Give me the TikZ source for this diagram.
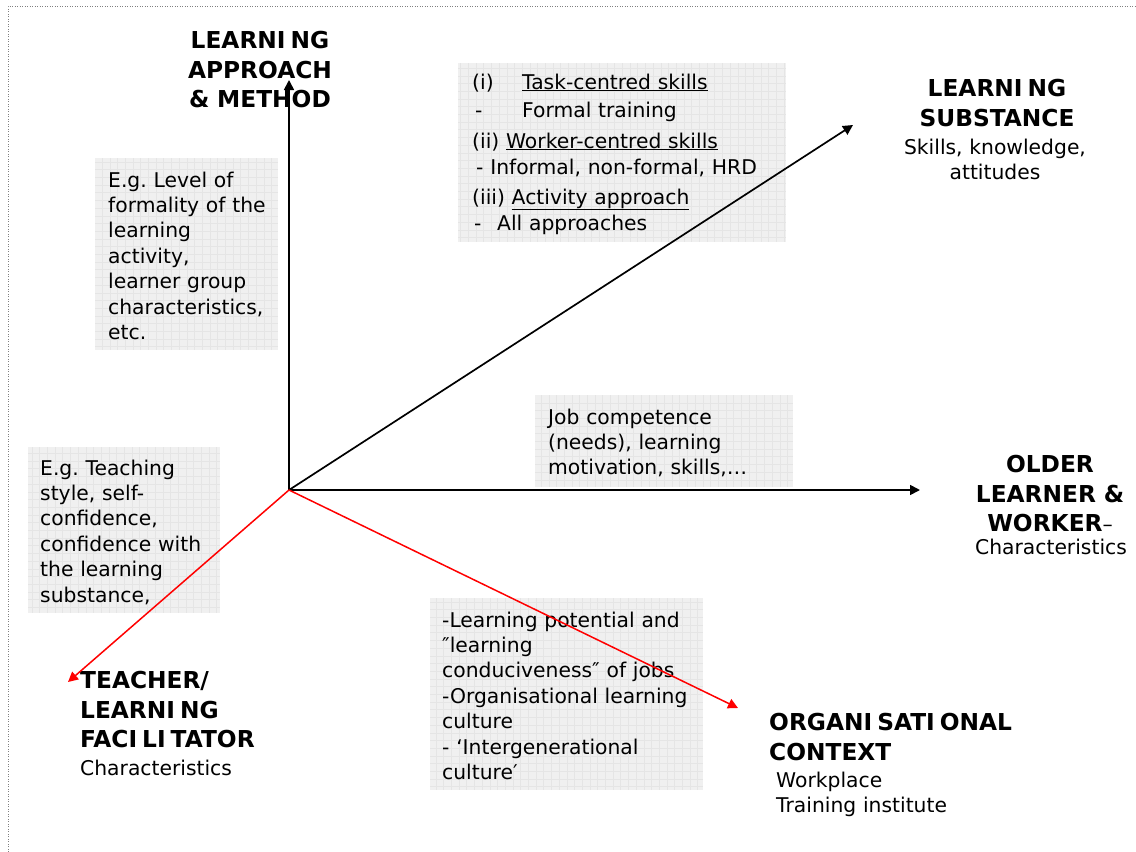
\documentclass[tikz,border=0pt]{standalone}
\usepackage{fontspec}
\setmainfont{DejaVu Sans}
\usetikzlibrary{arrows.meta}
% text sizes: plain panel text and bold axis titles
\newcommand\bodyf{\fontsize{20.3}{25.4}\selectfont}
\newcommand\titlef{\bfseries\fontsize{23.3}{29.5}\selectfont}
% capital I followed by the loose spacing of the heading face
\newcommand\wideI{I\kern5pt}
\frenchspacing

\begin{document}
\begin{tikzpicture}[x=1pt,y=-1pt,
  panel/.style={draw=none, fill=black!6, inner sep=0pt, anchor=north west,
    path picture={\draw[black!10, line width=0.4pt]
      (path picture bounding box.south west) grid[step=7.7pt]
      (path picture bounding box.north east);}},
  body/.style={font=\bodyf, inner sep=0pt, anchor=base west, align=left, text width=#1},
  bodyc/.style={font=\bodyf, inner sep=0pt, anchor=base, align=center, text width=#1},
  title/.style={font=\titlef, inner sep=0pt, anchor=base, align=center, text width=#1},
  titlel/.style={font=\titlef, inner sep=0pt, anchor=base west, align=left, text width=#1},
  axis/.style={line width=1.7pt, black, -{Triangle[length=10pt,width=10pt]}},
  raxis/.style={axis, red, line width=1.5pt},
  frame/.style={gray, line width=1pt, dash pattern=on 1pt off 1.5pt}]

\useasboundingbox (0,0) rectangle (1136,852);

% outer dotted frame
\draw[frame] (8,852) -- (8,6) -- (1136,6);

% shaded panels
\node[panel, minimum width=183pt, minimum height=192pt] (p1) at (95,158) {};
\node[panel, minimum width=328pt, minimum height=179pt] (p2) at (458,63) {};
\node[panel, minimum width=258pt, minimum height=92pt]  (p3) at (535,395) {};
\node[panel, minimum width=192pt, minimum height=166pt] (p4) at (28,447) {};
\node[panel, minimum width=273pt, minimum height=192pt] (p5) at (430,598) {};

% panel texts
\node[body=175pt] (t1) at (108,187) {E.g. Level of\\formality of the\\learning\\activity,\\learner group\\characteristics,\\etc.};
\node[body=310pt] (t2) at (472,89) {\makebox[50pt][l]{(i)}\underline{Task-centred skills}\\[2.6pt]
  \makebox[50pt][l]{\hspace{3pt}-}Formal training\\[5.6pt]
  (ii) \underline{Worker-centred skills}\\[0.6pt]
  \hspace{4pt}- Informal, non-formal, HRD\\[4.6pt]
  (iii) \underline{Activity approach}\\[0.6pt]
  \makebox[25pt][l]{\hspace{2pt}-}All approaches};
\node[body=245pt] (t3) at (548,424) {Job competence\\(needs), learning\\motivation, skills,\ldots};
\node[body=185pt] (t4) at (40,475) {E.g. Teaching\\style, self-\\confidence,\\confidence with\\the learning\\substance,};
\node[body=265pt] (t5) at (442,627) {-Learning potential and\\″learning\\conduciveness″ of jobs\\-Organisational learning\\culture\\- ‘Intergenerational\\culture′};

% axis titles
\node[title=220pt] (lam) at (260,48.5) {LEARN\wideI NG\\APPROACH\\\& METHOD};
\node[title=240pt] (subst) at (997,96.5) {LEARN\wideI NG\\SUBSTANCE};
\node[bodyc=240pt] (substsub) at (995,154) {Skills, knowledge,\\attitudes};
\node[title=240pt] (older) at (1050,472.5) {OLDER\\LEARNER \&\\WORKER{\mdseries\bodyf –}};
\node[bodyc=200pt] (oldersub) at (1051,554) {Characteristics};
\node[titlel=220pt] (teach) at (80,688.5) {TEACHER/\\LEARN\wideI NG\\FAC\wideI L\wideI TATOR};
\node[body=200pt] (teachsub) at (80,775) {Characteristics};
\node[titlel=300pt] (org) at (769,730.5) {ORGAN\wideI SAT\wideI ONAL\\CONTEXT};
\node[body=250pt] (orgsub) at (776,787) {Workplace\\Training institute};

% axes from the common origin
\coordinate (O) at (289,490);
\coordinate (endA) at (289,80);
\coordinate (endS) at (853,125);
\coordinate (endW) at (920,490);
\coordinate (endT) at (68,682);
\coordinate (endC) at (738,708);

\draw[axis] (O) -- (endA);
\draw[axis] (O) -- (endS);
\draw[axis] (O) -- (endW);
\draw[raxis] (O) -- (endT);
\draw[raxis] (O) -- (endC);
\end{tikzpicture}
\end{document}
